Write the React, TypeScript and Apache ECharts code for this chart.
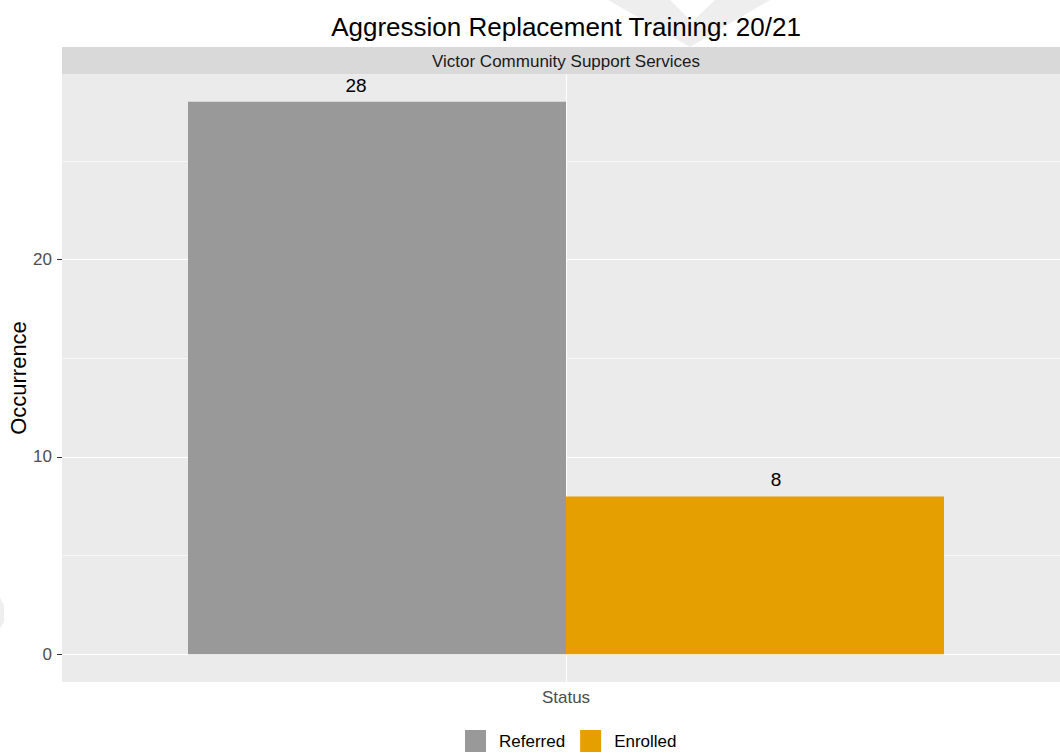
import React, { useEffect, useRef } from "react";
import * as echarts from "echarts";

const categories = ["Status"];
const seriesNames = ["Referred", "Enrolled"];
const referredValues = [28];
const enrolledValues = [8];
const yTickValues = [0, 10, 20];
const yMinorValues = [5, 15, 25];
const titleText = "Aggression Replacement Training: 20/21";
const stripText = "Victor Community Support Services";
const yAxisTitle = "Occurrence";

const FONT = "'Liberation Sans', Arial, Helvetica, sans-serif";

export default function App() {
  const ref = useRef<HTMLDivElement>(null);
  useEffect(() => {
    if (!ref.current) return;
    const chart = echarts.init(ref.current, null, { renderer: "svg" });
    const gridLines = [
      ...yTickValues.map((v) => ({ yAxis: v, lineStyle: { color: "#ffffff", width: 1.1, type: "solid" } })),
      ...yMinorValues.map((v) => ({ yAxis: v, lineStyle: { color: "#ffffff", width: 0.55, type: "solid" } })),
      { xAxis: categories[0], lineStyle: { color: "#ffffff", width: 1.1, type: "solid" } },
    ];
    chart.setOption({
      animation: false,
      backgroundColor: "#ffffff",
      textStyle: { fontFamily: FONT },
      grid: {
        left: 62,
        top: 74,
        width: 1008,
        height: 608,
        backgroundColor: "#EBEBEB",
        show: true,
        borderWidth: 0,
        containLabel: false,
        outerBoundsMode: "none",
      },
      graphic: [
        {
          type: "polygon",
          z: -10,
          shape: { points: [[608, 0], [670, 0], [692, 22], [715, 0], [770, 0], [690, 47]] },
          style: { fill: "#eeeeee" },
        },
        {
          type: "polygon",
          z: -10,
          shape: { points: [[0, 598], [4, 605], [4, 622], [0, 628]] },
          style: { fill: "#eeeeee" },
        },
        {
          type: "rect",
          shape: { x: 62, y: 47, width: 1008, height: 27 },
          style: { fill: "#D9D9D9" },
        },
        {
          type: "text",
          x: 566,
          y: 61,
          style: { text: stripText, fontSize: 17, fill: "#1A1A1A", align: "center", verticalAlign: "middle", fontFamily: FONT },
        },
        {
          type: "text",
          x: 566,
          y: 27,
          style: { text: titleText, fontSize: 26, fill: "#000000", align: "center", verticalAlign: "middle", fontFamily: FONT },
        },
      ],
      legend: {
        data: seriesNames,
        left: 465,
        top: 730,
        padding: 0,
        itemWidth: 21,
        itemHeight: 22,
        itemGap: 15,
        icon: "rect",
        textStyle: { fontSize: 17, color: "#000000", fontFamily: FONT, padding: [0, 0, 0, 8] },
      },
      xAxis: {
        type: "category",
        data: categories,
        axisLine: { show: false },
        axisTick: { show: true, alignWithLabel: true, length: 5, lineStyle: { color: "#333333", width: 1 } },
        axisLabel: { fontSize: 17, color: "#4D4D4D", margin: 7, fontFamily: FONT },
        splitLine: { show: false },
      },
      yAxis: {
        type: "value",
        min: -1.4,
        max: 29.4,
        name: yAxisTitle,
        nameLocation: "middle",
        nameRotate: 90,
        nameGap: 33,
        nameMoveOverlap: false,
        nameTextStyle: { fontSize: 22, color: "#000000", fontFamily: FONT },
        axisLine: { show: false },
        axisTick: { show: true, length: 5, customValues: yTickValues, lineStyle: { color: "#333333", width: 1 } },
        axisLabel: { fontSize: 17, color: "#4D4D4D", margin: 10, customValues: yTickValues, fontFamily: FONT },
        splitLine: { show: false },
      },
      series: [
        {
          name: "grid",
          type: "line",
          data: [],
          silent: true,
          z: 1,
          markLine: {
            z: 1,
            silent: true,
            symbol: "none",
            label: { show: false },
            emphasis: { disabled: true },
            data: gridLines,
          },
        },
        {
          name: seriesNames[0],
          type: "bar",
          data: referredValues,
          barWidth: 378,
          barGap: "0%",
          z: 3,
          itemStyle: { color: "#999999" },
          label: { show: true, position: "top", distance: 7, offset: [-21, 0], fontSize: 19, color: "#000000", fontFamily: FONT },
        },
        {
          name: seriesNames[1],
          type: "bar",
          data: enrolledValues,
          barWidth: 378,
          barGap: "0%",
          z: 3,
          itemStyle: { color: "#E69F00" },
          label: { show: true, position: "top", distance: 7, offset: [21, 0], fontSize: 19, color: "#000000", fontFamily: FONT },
        },
      ],
    });
    return () => chart.dispose();
  }, []);
  return (
    <div
      ref={ref}
      style={{ position: "absolute", left: 0, top: 0, width: 1060, height: 754, background: "#ffffff" }}
    />
  );
}
